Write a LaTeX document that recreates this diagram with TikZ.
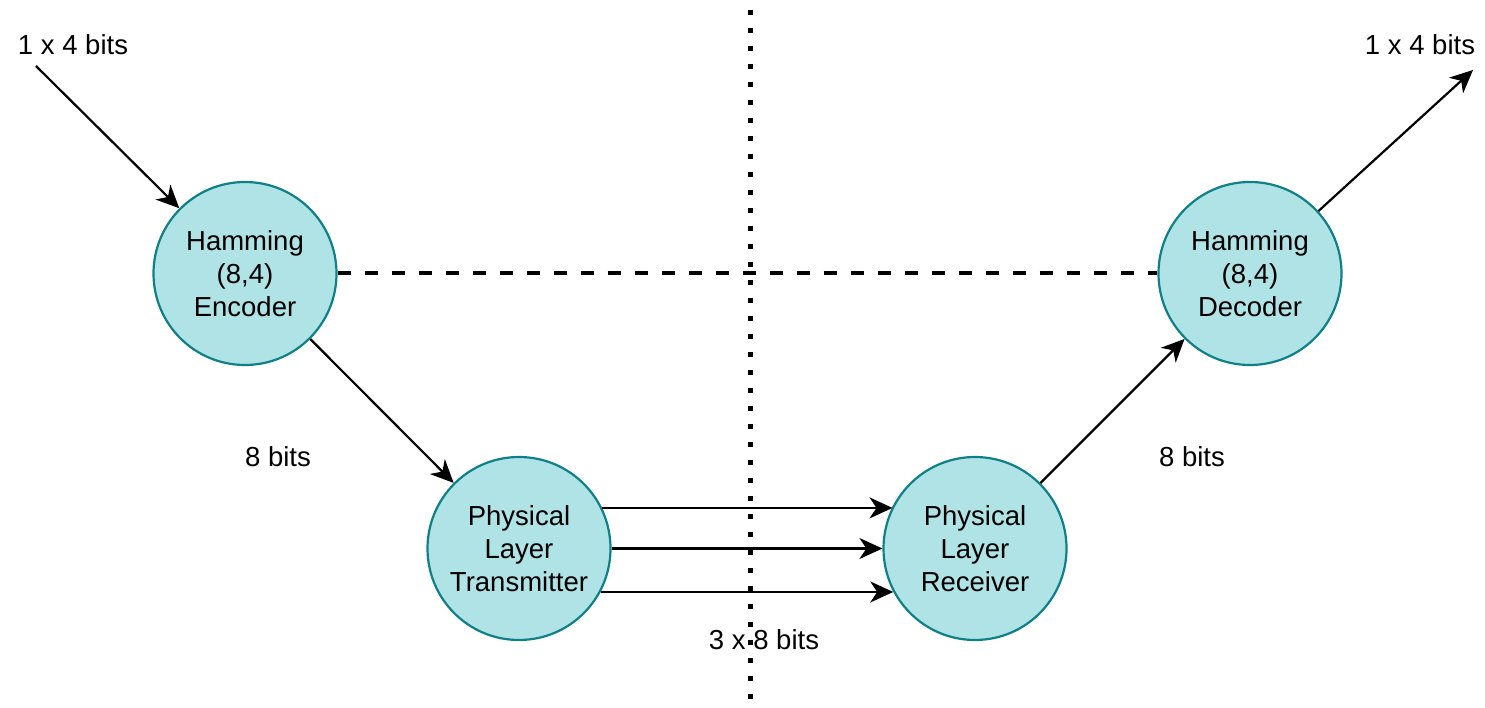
\documentclass[tikz,border=0pt]{standalone}
\usepackage{fontspec}
\setmainfont{Liberation Sans}
\usetikzlibrary{arrows.meta}
\definecolor{nodefill}{HTML}{B0E3E6}
\definecolor{nodedraw}{HTML}{0E8088}
\begin{document}
\begin{tikzpicture}[x=1pt,y=-1pt,
  every node/.style={font=\fontsize{27.5}{33}\selectfont, inner sep=0pt},
  proc/.style={circle, draw=nodedraw, fill=nodefill, line width=2.2pt, minimum size=183pt, align=center},
  arr/.style={line width=2.2pt, -{Stealth[length=23pt,width=21pt,inset=7pt]}},
  lbl/.style={align=center}]
\useasboundingbox (0,0) rectangle (1485,708);
% vertical dotted line
\coordinate (vt) at (750,10);
\coordinate (vb) at (750,720);
\draw[line width=5pt, dash pattern=on 5pt off 13pt] (vt) -- (vb);
% nodes
\node[proc] (enc) at (245,273.5) {Hamming\\(8,4)\\Encoder};
\node[proc] (dec) at (1250,273.5) {Hamming\\(8,4)\\Decoder};
\node[proc] (tx) at (519,548.5) {Physical\\Layer\\Transmitter};
\node[proc] (rx) at (975,548.5) {Physical\\Layer\\Receiver};
% labels
\node[lbl] (lin) at (73,45) {1 x 4 bits};
\node[lbl] (lout) at (1420,45) {1 x 4 bits};
\node[lbl] (l8a) at (278,457) {8 bits};
\node[lbl] (l8b) at (1192,457) {8 bits};
\node[lbl] (l38) at (764,640) {3 x 8 bits};
% dashed link
\draw[line width=4pt, dash pattern=on 13pt off 14pt] (enc.east) -- (dec.west);
% arrows
\coordinate (inS) at (36,66);
\coordinate (outE) at (1473,70);
\draw[arr] (inS) -- (enc);
\draw[arr] (enc) -- (tx);
\draw[arr] (tx.{asin(41.5/92.6)}) -- (tx.{asin(41.5/92.6)} -| rx.{180-asin(41.5/92.6)});
\draw[arr] (tx.east) -- (rx.west);
\draw[arr] (tx.{-asin(44.5/92.6)}) -- (tx.{-asin(44.5/92.6)} -| rx.{180+asin(44.5/92.6)});
\draw[arr] (rx) -- (dec);
\draw[arr] (dec) -- (outE);
\end{tikzpicture}
\end{document}
